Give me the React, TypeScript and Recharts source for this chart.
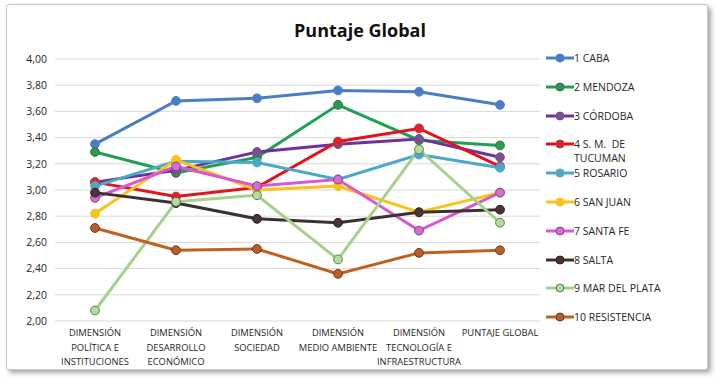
import React from "react";
import { LineChart, Line, XAxis, YAxis, CartesianGrid } from "recharts";

const categories = [
  ["DIMENSIÓN", "POLÍTICA E", "INSTITUCIONES"],
  ["DIMENSIÓN", "DESARROLLO", "ECONÓMICO"],
  ["DIMENSIÓN", "SOCIEDAD"],
  ["DIMENSIÓN", "MEDIO AMBIENTE"],
  ["DIMENSIÓN", "TECNOLOGÍA E", "INFRAESTRUCTURA"],
  ["PUNTAJE GLOBAL"],
];

const caba = [3.35, 3.68, 3.7, 3.76, 3.75, 3.65];
const mendoza = [3.29, 3.13, 3.25, 3.65, 3.38, 3.34];
const cordoba = [3.06, 3.15, 3.29, 3.35, 3.39, 3.25];
const tucuman = [3.06, 2.95, 3.02, 3.37, 3.47, 3.18];
const rosario = [3.03, 3.22, 3.21, 3.08, 3.27, 3.17];
const sanJuan = [2.82, 3.23, 3.0, 3.03, 2.83, 2.98];
const santaFe = [2.94, 3.18, 3.03, 3.08, 2.69, 2.98];
const salta = [2.98, 2.9, 2.78, 2.75, 2.83, 2.85];
const marDelPlata = [2.08, 2.91, 2.96, 2.47, 3.31, 2.75];
const resistencia = [2.71, 2.54, 2.55, 2.36, 2.52, 2.54];

const yTicks = [2, 2.2, 2.4, 2.6, 2.8, 3, 3.2, 3.4, 3.6, 3.8, 4];

const series = [
  { key: "caba", name: "1 CABA", values: caba, color: "#4A7EC4", dot: "#4A7EC4", edge: "#4A7EC4" },
  { key: "mendoza", name: "2 MENDOZA", values: mendoza, color: "#1FA154", dot: "#2A9A52", edge: "#3F6E48" },
  { key: "cordoba", name: "3 CÓRDOBA", values: cordoba, color: "#7030A0", dot: "#7A4E98", edge: "#6A5A70" },
  { key: "tucuman", name: "4 S. M.  DE\nTUCUMAN", values: tucuman, color: "#E3131E", dot: "#E0202A", edge: "#B0303A" },
  { key: "rosario", name: "5 ROSARIO", values: rosario, color: "#4BA9C6", dot: "#4BA9C6", edge: "#4BA9C6" },
  { key: "sanJuan", name: "6 SAN JUAN", values: sanJuan, color: "#FCC21A", dot: "#FCC21A", edge: "#FCC21A" },
  { key: "santaFe", name: "7 SANTA FE", values: santaFe, color: "#D659D2", dot: "#D86AD6", edge: "#7A4A7A" },
  { key: "salta", name: "8 SALTA", values: salta, color: "#3A3232", dot: "#4A3434", edge: "#2A2020" },
  { key: "mdp", name: "9 MAR DEL PLATA", values: marDelPlata, color: "#A8D08D", dot: "#B6DB9E", edge: "#5E7E4E" },
  { key: "resistencia", name: "10 RESISTENCIA", values: resistencia, color: "#C1611F", dot: "#B8602A", edge: "#6A3A1A" },
];

const data = categories.map((lines, i) => {
  const row: any = { name: lines.join(" ") };
  series.forEach((s) => (row[s.key] = s.values[i]));
  return row;
});

const FONT = "'Open Sans', 'Noto Sans', sans-serif";

const XTick = ({ x, y, index }: any) => {
  const lines = categories[index] || [];
  return (
    <text x={x} y={y} textAnchor="middle" fontFamily={FONT} fontSize={9.4} fill="#262626">
      {lines.map((l, i) => (
        <tspan key={i} x={x} dy={i === 0 ? 15 : 14.5}>
          {l}
        </tspan>
      ))}
    </text>
  );
};

export default function App() {
  return (
    <div style={{ position: "absolute", left: 0, top: 0, width: 720, height: 384, background: "#fff", fontFamily: FONT }}>
      <div
        style={{
          position: "absolute",
          left: 6,
          top: 4,
          width: 700,
          height: 364,
          border: "1px solid #C8C8C8",
          borderRadius: 3,
          boxShadow: "3px 3px 5px rgba(0,0,0,0.35)",
          background: "#fff",
        }}
      />
      <div
        style={{
          position: "absolute",
          left: 0,
          top: 18,
          width: 720,
          textAlign: "center",
          fontSize: 18,
          fontWeight: 700,
          color: "#111",
        }}
      >
        Puntaje Global
      </div>
      <div style={{ position: "absolute", left: 0, top: 0 }}>
        <LineChart width={720} height={384} data={data} margin={{ top: 59, right: 180, bottom: 13, left: 8 }}>
          <CartesianGrid vertical={false} stroke="#D9D9D9" strokeWidth={1} />
          <XAxis
            dataKey="name"
            axisLine={false}
            tickLine={false}
            tickSize={0}
            tickMargin={0}
            height={50}
            interval={0}
            padding={{ left: 40, right: 40 }}
            tick={<XTick />}
          />
          <YAxis
            domain={[2, 4]}
            ticks={yTicks}
            axisLine={false}
            tickLine={false}
            width={47}
            tickFormatter={(v: number) => v.toFixed(2).replace(".", ",")}
            tick={{ fontSize: 10.5, fill: "#262626", fontFamily: FONT }}
          />
          {series.map((s) => (
            <Line
              key={s.key}
              dataKey={s.key}
              name={s.name}
              stroke={s.color}
              strokeWidth={3}
              dot={{ r: 4.4, fill: s.dot, stroke: s.edge, strokeWidth: 1 }}
              isAnimationActive={false}
            />
          ))}
        </LineChart>
      </div>
      <div style={{ position: "absolute", left: 546, top: 50 }}>
        {series.map((s, i) => (
          <div key={s.key} style={{ position: "absolute", left: 0, top: i * 28.8, width: 170, display: "flex", alignItems: "flex-start" }}>
            <svg width={28} height={16} style={{ flex: "none" }}>
              <line x1={0} x2={28} y1={8} y2={8} stroke={s.color} strokeWidth={3} />
              <circle cx={14} cy={8} r={4} fill={s.dot} stroke={s.edge} strokeWidth={1} />
            </svg>
            <span style={{ fontSize: 10.5, color: "#262626", lineHeight: "14px", marginTop: 1, width: 140, whiteSpace: "pre-wrap" }}>
              {s.name}
            </span>
          </div>
        ))}
      </div>
    </div>
  );
}
